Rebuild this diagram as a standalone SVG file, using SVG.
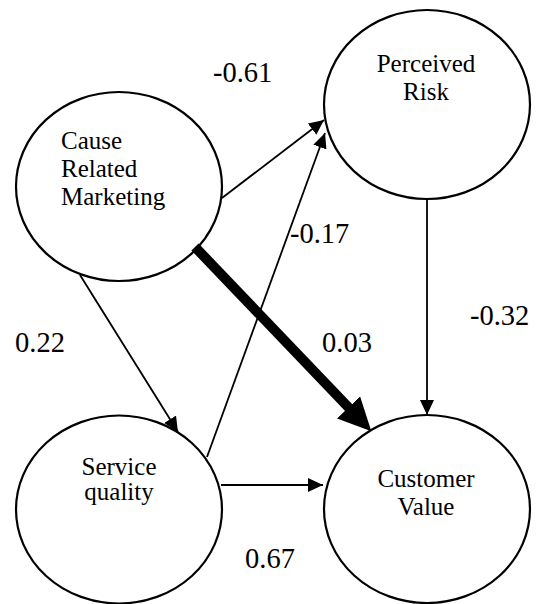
<svg xmlns="http://www.w3.org/2000/svg" width="537" height="604" viewBox="0 0 537 604">
<defs>
<style>
.node{fill:#fff;stroke:#000;stroke-width:2.2}
.t{font-family:'Liberation Serif','Times New Roman','DejaVu Serif',serif;font-size:25px;fill:#000}
.n{font-family:'Liberation Serif','Times New Roman','DejaVu Serif',serif;font-size:28.5px;fill:#000}
.e{stroke:#000;stroke-width:1.8;fill:none}
.thick{stroke:#000;stroke-width:10;fill:none}
</style>
<marker id="arr" markerWidth="16" markerHeight="14" refX="15" refY="7" orient="auto" markerUnits="userSpaceOnUse"><path d="M0,0 L15,7 L0,14 z" fill="#000"/></marker>
<marker id="big" markerWidth="34" markerHeight="32" refX="1" refY="16" orient="auto" markerUnits="userSpaceOnUse"><path d="M0,0 L33,16 L0,32 z" fill="#000"/></marker>
</defs>
<g id="nodes">
<g id="crm"><ellipse class="node" cx="119" cy="186.5" rx="103" ry="94.5"/>
<text class="t" x="61" y="149">Cause</text><text class="t" x="61" y="177">Related</text><text class="t" x="61" y="205">Marketing</text></g>
<g id="pr"><ellipse class="node" cx="427" cy="104.5" rx="103" ry="94.5"/>
<text class="t" x="426" y="72" text-anchor="middle">Perceived</text><text class="t" x="426" y="100" text-anchor="middle">Risk</text></g>
<g id="sq"><ellipse class="node" cx="119" cy="509.5" rx="103" ry="94"/>
<text class="t" x="119" y="475" text-anchor="middle">Service</text><text class="t" x="119" y="500" text-anchor="middle">quality</text></g>
<g id="cv"><ellipse class="node" cx="427" cy="509" rx="103" ry="94"/>
<text class="t" x="426" y="487" text-anchor="middle">Customer</text><text class="t" x="426" y="515" text-anchor="middle">Value</text></g>
</g>
<g id="connectors">
<line class="e" x1="222" y1="198" x2="324" y2="120" marker-end="url(#arr)"/>
<line class="e" x1="207" y1="457" x2="325" y2="133" marker-end="url(#arr)"/>
<line class="e" x1="80" y1="275" x2="178" y2="432" marker-end="url(#arr)"/>
<line class="e" x1="221" y1="485" x2="323" y2="485" marker-end="url(#arr)"/>
<line class="e" x1="427" y1="199" x2="427" y2="415" marker-end="url(#arr)"/>
<line class="thick" x1="195" y1="247" x2="349.2" y2="408.1" marker-end="url(#big)"/>
</g>
<g id="labels">
<text class="n" x="213" y="82">-0.61</text>
<text class="n" x="290" y="243">-0.17</text>
<text class="n" x="322" y="352">0.03</text>
<text class="n" x="470" y="325">-0.32</text>
<text class="n" x="15" y="352">0.22</text>
<text class="n" x="245" y="568">0.67</text>
</g>
</svg>
